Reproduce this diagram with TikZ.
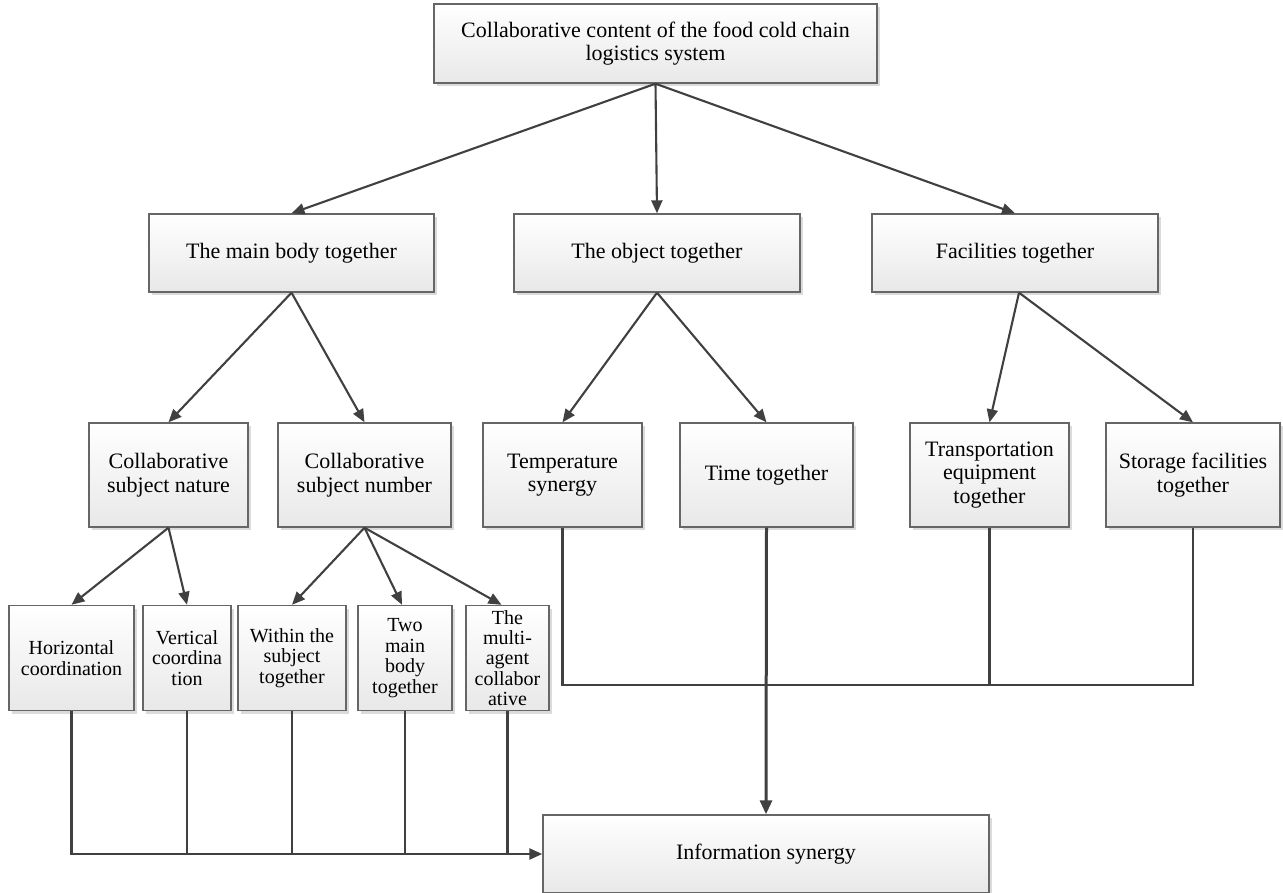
\documentclass[tikz,border=0pt]{standalone}
\usepackage{fontspec}
\setmainfont{Liberation Serif}
\usetikzlibrary{arrows.meta,shadows}

\definecolor{linegray}{HTML}{404040}
\definecolor{framegray}{HTML}{666666}

\tikzset{
  box/.style={draw=framegray, line width=1.4pt, top color=white, bottom color=black!9,
    drop shadow={shadow xshift=3pt, shadow yshift=-3pt, fill=black!14, opacity=1},
    inner sep=0pt, align=center, font=\fontsize{22}{23.5}\selectfont},
  smallbox/.style={box, font=\fontsize{20}{20.4}\selectfont},
  link/.style={draw=linegray, line width=2.1pt},
  arr/.style={link, -{Triangle[length=13pt, width=11pt]}},
  bigarr/.style={draw=linegray, line width=3pt, -{Triangle[length=14pt, width=12pt]}},
}

\begin{document}
\begin{tikzpicture}[x=1pt, y=-1pt]
\useasboundingbox (0,0) rectangle (1283,892);

% root
\node[box, minimum width=443pt, minimum height=79pt, font=\fontsize{22}{23}\selectfont]
  (root) at (655.5,43.5) {Collaborative content of the food cold chain\\logistics system};

% first level
\node[box, minimum width=285pt, minimum height=78pt] (body) at (291.5,253) {The main body together};
\node[box, minimum width=286pt, minimum height=78pt] (object) at (657,253) {The object together};
\node[box, minimum width=286pt, minimum height=78pt] (facil) at (1015,253) {Facilities together};

% second level
\node[box, minimum width=159pt, minimum height=104pt] (nature) at (168.5,475) {Collaborative\\subject nature};
\node[box, minimum width=173pt, minimum height=104pt] (number) at (364.5,475) {Collaborative\\subject number};
\node[box, minimum width=159pt, minimum height=104pt] (temp) at (562.5,475) {Temperature\\synergy};
\node[box, minimum width=173pt, minimum height=104pt] (time) at (766.5,475) {Time together};
\node[box, minimum width=159pt, minimum height=104pt] (trans) at (989.5,475) {Transportation\\equipment\\together};
\node[box, minimum width=174pt, minimum height=104pt] (store) at (1193,475) {Storage facilities\\together};

% third level
\node[smallbox, minimum width=125pt, minimum height=105pt] (horiz) at (71.5,658) {Horizontal\\coordination};
\node[smallbox, minimum width=88pt, minimum height=105pt] (vert) at (187,658) {Vertical\\coordina\\tion};
\node[smallbox, minimum width=108pt, minimum height=105pt] (within) at (292,658) {Within the\\subject\\together};
\node[smallbox, minimum width=94pt, minimum height=105pt] (two) at (405,658) {Two\\main\\body\\together};
\node[smallbox, minimum width=83pt, minimum height=105pt] (multi) at (507.5,658) {The\\multi-\\agent\\collabor\\ative};

% target
\node[box, minimum width=446pt, minimum height=78pt] (info) at (766,854) {Information synergy};

% tree arrows
\draw[arr] (root.south) -- (body.north);
\draw[arr] (root.south) -- (object.north);
\draw[arr] (root.south) -- (facil.north);

\draw[arr] (body.south) -- (nature.north);
\draw[arr] (body.south) -- (number.north);
\draw[arr] (object.south) -- (temp.north);
\draw[arr] (object.south) -- (time.north);
\draw[arr] ([xshift=4pt]facil.south) -- (trans.north);
\draw[arr] ([xshift=4pt]facil.south) -- (store.north);

\draw[arr] (nature.south) -- (horiz.north);
\draw[arr] (nature.south) -- (vert.north);
\draw[arr] (number.south) -- (within.north);
\draw[arr] (number.south) -- ([xshift=-3pt]two.north);
\draw[arr] (number.south) -- ([xshift=-6pt]multi.north);

% collector on the left
\draw[link] (vert.south) -- (vert.south |- info.west);
\draw[link] (within.south) -- (within.south |- info.west);
\draw[link] (two.south) -- (two.south |- info.west);
\draw[link] (multi.south) -- (multi.south |- info.west);
\draw[arr, line width=2.5pt] (horiz.south) |- (info.west);

% collector on the right
\coordinate (rbus) at (0,685);
\draw[link] (temp.south) -- (temp.south |- rbus) -- (store.south |- rbus) -- (store.south);
\draw[link] (trans.south) -- (trans.south |- rbus);
\draw[bigarr] (time.south) -- (info.north);
\end{tikzpicture}
\end{document}
